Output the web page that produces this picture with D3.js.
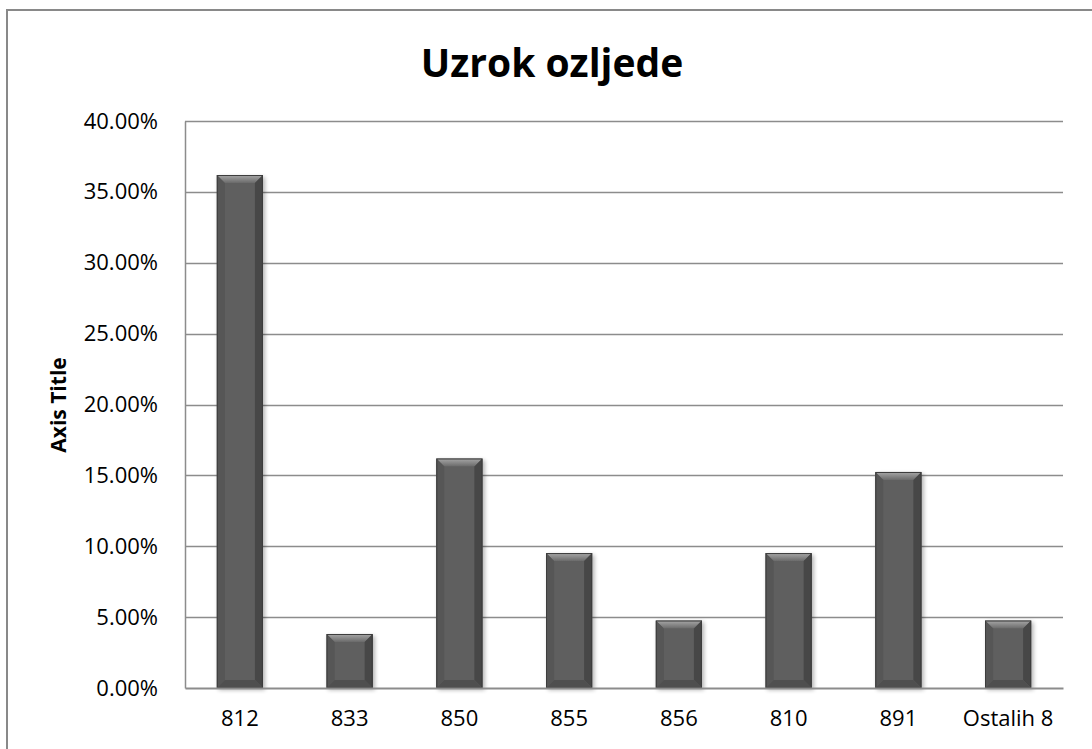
<!DOCTYPE html>
<html>
<head>
<meta charset="utf-8">
<script src="https://cdn.jsdelivr.net/npm/d3@7"></script>
<style>
  body { margin: 0; background: #fff; }
  svg { display: block; }
</style>
</head>
<body>
<svg width="1092" height="749" viewBox="0 0 1092 749"></svg>
<script>
// data
var categories = ["812", "833", "850", "855", "856", "810", "891", "Ostalih 8"];
var shares = [0.3619, 0.0381, 0.1619, 0.0952, 0.0476, 0.0952, 0.1524, 0.0476];
var tickValues = [0, 0.05, 0.10, 0.15, 0.20, 0.25, 0.30, 0.35, 0.40];
var titleText = "Uzrok ozljede";
var axisTitleText = "Axis Title";

var canvas = d3.select("svg");
var font = "'Open Sans', 'Noto Sans', sans-serif";

// plot area
var plotLeft = 185, plotRight = 1063, plotTop = 121, plotBottom = 688;

var x = d3.scaleBand()
  .domain(categories)
  .range([plotLeft, plotRight])
  .paddingInner(0.58)
  .paddingOuter(0.29);

var y = d3.scaleLinear()
  .domain([0, 0.4])
  .range([plotBottom, plotTop]);

// chart border
canvas.append("rect")
  .attr("x", 7).attr("y", 10)
  .attr("width", 1100).attr("height", 760)
  .style("fill", "none")
  .style("stroke", "#898989")
  .style("stroke-width", 2);

// gradients for the bevelled bars
var defs = canvas.append("defs");
var topGrad = defs.append("linearGradient")
  .attr("id", "topBevel").attr("x1", 0).attr("y1", 0).attr("x2", 0).attr("y2", 1);
topGrad.append("stop").attr("offset", "0%").attr("stop-color", "#a8a8a8");
topGrad.append("stop").attr("offset", "100%").attr("stop-color", "#6a6a6a");

var shadow = defs.append("filter").attr("id", "shadow")
  .attr("x", "-20%").attr("y", "-10%").attr("width", "140%").attr("height", "130%");
shadow.append("feGaussianBlur").attr("in", "SourceAlpha").attr("stdDeviation", 2).attr("result", "blur");
shadow.append("feOffset").attr("in", "blur").attr("dx", 2).attr("dy", 2).attr("result", "off");
shadow.append("feComponentTransfer").attr("in", "off").attr("result", "soft")
  .append("feFuncA").attr("type", "linear").attr("slope", 0.3);
var merge = shadow.append("feMerge");
merge.append("feMergeNode").attr("in", "soft");
merge.append("feMergeNode").attr("in", "SourceGraphic");

// gridlines
canvas.append("g")
  .selectAll("line")
  .data(tickValues.slice(1))
  .enter()
    .append("line")
    .attr("x1", plotLeft).attr("x2", plotRight)
    .attr("y1", function(d) { return Math.round(y(d)) + 0.5; })
    .attr("y2", function(d) { return Math.round(y(d)) + 0.5; })
    .style("stroke", "#8c8c8c")
    .style("stroke-width", 1.5);

// y axis
var yAxis = canvas.append("g")
  .attr("transform", "translate(" + plotLeft + ",0)")
  .call(d3.axisLeft(y).tickValues(tickValues).tickFormat(d3.format(".2%")).tickSize(0).tickPadding(27));
yAxis.select(".domain").style("stroke", "#8c8c8c").style("stroke-width", 1.5);
yAxis.selectAll("text")
  .style("font-family", font)
  .style("font-size", "22px")
  .style("fill", "#000");

// bars
var bevel = 8;
var bars = canvas.append("g")
  .selectAll("g")
  .data(shares)
  .enter()
    .append("g")
    .attr("filter", "url(#shadow)");

function pts(arr) { return arr.map(function(p) { return p.join(","); }).join(" "); }

bars.each(function(d, i) {
  var g = d3.select(this);
  var bx = x(categories[i]), bw = x.bandwidth();
  var by = y(d), bh = plotBottom - y(d);
  var b = Math.min(bevel, bh / 3);
  g.append("rect")
    .attr("x", bx).attr("y", by).attr("width", bw).attr("height", bh)
    .style("fill", "#5e5e5e");
  // top bevel
  g.append("polygon")
    .attr("points", pts([[bx, by], [bx + bw, by], [bx + bw - b, by + b], [bx + b, by + b]]))
    .style("fill", "url(#topBevel)");
  // left bevel
  g.append("polygon")
    .attr("points", pts([[bx, by], [bx + b, by + b], [bx + b, by + bh - b], [bx, by + bh]]))
    .style("fill", "#575757");
  // right bevel
  g.append("polygon")
    .attr("points", pts([[bx + bw, by], [bx + bw - b, by + b], [bx + bw - b, by + bh - b], [bx + bw, by + bh]]))
    .style("fill", "#464646");
  // bottom bevel
  g.append("polygon")
    .attr("points", pts([[bx, by + bh], [bx + b, by + bh - b], [bx + bw - b, by + bh - b], [bx + bw, by + bh]]))
    .style("fill", "#505050");
  g.append("rect")
    .attr("x", bx + 0.5).attr("y", by + 0.5).attr("width", bw - 1).attr("height", bh - 1)
    .style("fill", "none")
    .style("stroke", "#3c3c3c")
    .style("stroke-width", 1);
});

// x axis
var xAxis = canvas.append("g")
  .attr("transform", "translate(0," + plotBottom + ")")
  .call(d3.axisBottom(x).tickSize(0).tickPadding(22));
xAxis.select(".domain").style("stroke", "#8c8c8c").style("stroke-width", 2);
xAxis.selectAll("text")
  .style("font-family", font)
  .style("font-size", "22px")
  .style("fill", "#000");

// title
canvas.append("text")
  .attr("x", 552).attr("y", 77)
  .attr("text-anchor", "middle")
  .style("font-family", font)
  .style("font-weight", "bold")
  .style("font-size", "39px")
  .text(titleText);

// axis title
canvas.append("text")
  .attr("transform", "translate(66,405) rotate(-90)")
  .attr("text-anchor", "middle")
  .style("font-family", font)
  .style("font-weight", "bold")
  .style("font-size", "21px")
  .text(axisTitleText);
</script>
</body>
</html>
